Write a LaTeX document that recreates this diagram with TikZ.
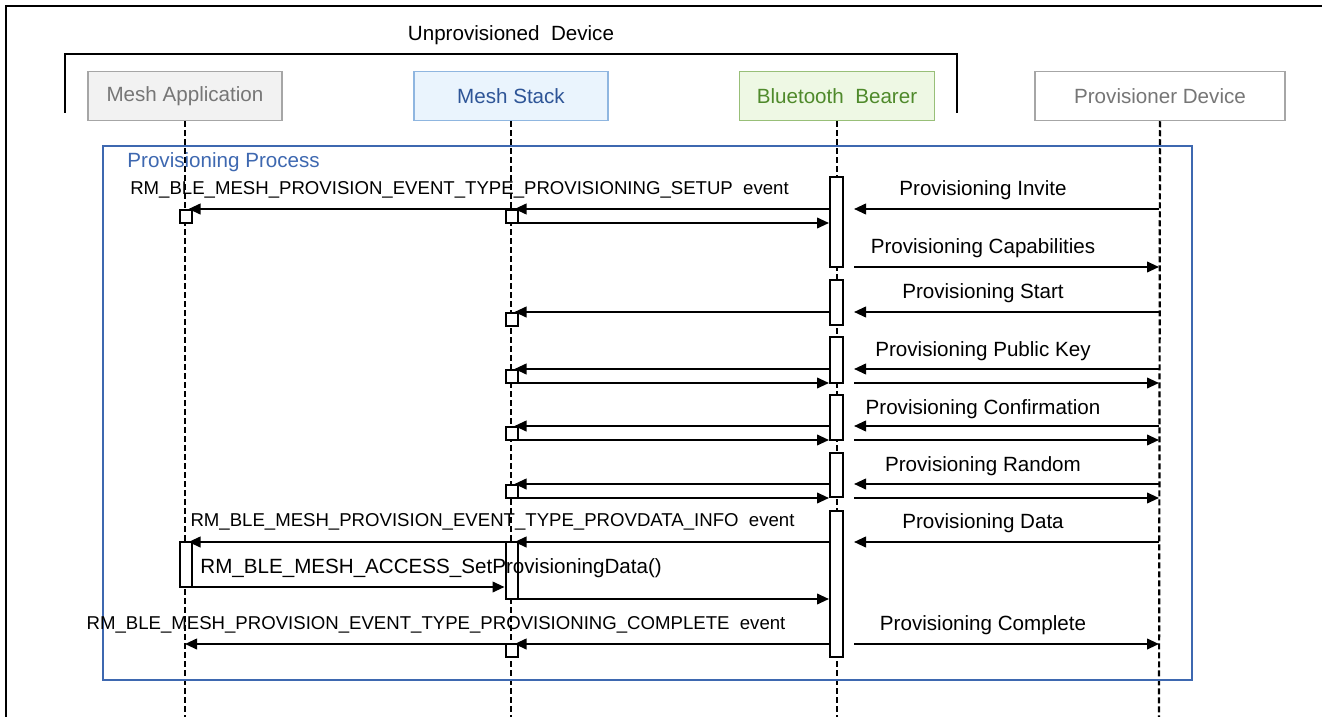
\documentclass[tikz,border=0pt]{standalone}
\usepackage{fontspec}
\setmainfont{Liberation Sans}
\usetikzlibrary{arrows.meta}
\definecolor{appfill}{HTML}{F2F2F2}
\definecolor{appdraw}{HTML}{A6A6A6}
\definecolor{apptext}{HTML}{767676}
\definecolor{stfill}{HTML}{EAF4FD}
\definecolor{stdraw}{HTML}{8FB6E0}
\definecolor{sttext}{HTML}{2E5597}
\definecolor{btfill}{HTML}{EEF8E4}
\definecolor{btdraw}{HTML}{98BF78}
\definecolor{bttext}{HTML}{4F8A2B}
\definecolor{frameblue}{HTML}{3E68B0}
\begin{document}
\begin{tikzpicture}[x=0.5pt,y=-0.5pt,
  hdr/.style={draw, line width=0.75pt, minimum height=24.5pt, inner sep=0pt,
    font=\fontsize{10.3}{12}\selectfont},
  life/.style={line width=1.1pt, dash pattern=on 3pt off 1.5pt},
  msg/.style={line width=1pt, -{Triangle[length=6pt,width=5.3pt]}},
  msgin/.style={msg, shorten >=-2pt},
  act/.style={draw, fill=white, line width=1pt, minimum width=6pt, inner sep=0pt},
  lbl/.style={font=\fontsize{10.3}{12}\selectfont, inner sep=0pt},
  ev/.style={font=\fontsize{9.3}{11}\selectfont, inner sep=0pt}]
\useasboundingbox (0,0) rectangle (1322,717);
% outer frame
\draw[line width=1pt] (6,717) -- (6,6) -- (1322,6);
% unprovisioned device bracket
\node[lbl] (udev) at (511,35) {Unprovisioned\ \ Device};
\draw[line width=0.9pt] (65,113) -- (65,54) -- (957,54) -- (957,113);
% header boxes
\node[hdr, minimum width=97pt, fill=appfill, draw=appdraw, text=apptext] (app) at (185,96) {Mesh Application};
\node[hdr, minimum width=97pt, fill=stfill, draw=stdraw, text=sttext] (stk) at (511,96) {Mesh Stack};
\node[hdr, minimum width=97.5pt, fill=btfill, draw=btdraw, text=bttext] (ble) at (837,96) {Bluetooth\ \ Bearer};
\node[hdr, minimum width=125pt, fill=white, draw=appdraw, text=apptext] (prv) at (1160,96) {Provisioner Device};
% lifeline ends
\coordinate (appE) at (185,717);
\coordinate (stkE) at (511,717);
\coordinate (bleE) at (837,717);
\coordinate (prvE) at (1159,717);
\draw[life] (app.south) -- (appE);
\draw[life] (stk.south) -- (stkE);
\draw[life] (ble.south) -- (bleE);
\draw[life] (prv.south) -- (prvE);
% process frame
\draw[frameblue, line width=0.7pt] (103,146) rectangle (1192,680);
\node[lbl, anchor=west, text=frameblue] (ptitle) at (127,162) {Provisioning Process};
% row coordinates
\coordinate (rSet) at (0,209);
\coordinate (rSetB) at (0,223);
\coordinate (rCap) at (0,267);
\coordinate (rStart) at (0,312);
\coordinate (rPKa) at (0,369);
\coordinate (rPKb) at (0,383);
\coordinate (rCfa) at (0,426);
\coordinate (rCfb) at (0,440);
\coordinate (rRna) at (0,484);
\coordinate (rRnb) at (0,498);
\coordinate (rDat) at (0,542);
\coordinate (rSPD) at (0,587);
\coordinate (rS6b) at (0,599);
\coordinate (rCmp) at (0,644);
\coordinate (bR) at (854,0);
% bearer activations
\node[act, minimum width=6.5pt, minimum height=45pt] (A1) at (836.5,222) {};
\node[act, minimum width=6.5pt, minimum height=22.5pt] (A2) at (836.5,302.5) {};
\node[act, minimum width=6.5pt, minimum height=23pt] (A3) at (836.5,360) {};
\node[act, minimum width=6.5pt, minimum height=22.5pt] (A4) at (836.5,417.5) {};
\node[act, minimum width=6.5pt, minimum height=22pt] (A5) at (836.5,475) {};
\node[act, minimum width=6.5pt, minimum height=73pt] (A6) at (836.5,584) {};
% stack boxes
\node[act, minimum height=6.5pt] (S1) at (511.5,216.5) {};
\node[act, minimum height=6.5pt] (S2) at (511.5,319.5) {};
\node[act, minimum height=6.5pt] (S3) at (511.5,376.5) {};
\node[act, minimum height=6.5pt] (S4) at (511.5,433.5) {};
\node[act, minimum height=6.5pt] (S5) at (511.5,491.5) {};
\node[act, minimum height=28.5pt] (S6) at (511.5,570.5) {};
\node[act, minimum height=6.5pt] (S7) at (511.5,650.5) {};
% app boxes
\node[act, minimum height=6.5pt] (P1) at (185.5,216.5) {};
\node[act, minimum height=22.5pt] (P2) at (185.5,564.5) {};
% setup
\draw[msgin] (A1.west |- rSet) -- (S1.east |- rSet);
\draw[msgin] (S1.east |- rSet) -- (P1.east |- rSet);
\draw[msg] (S1.east |- rSetB) -- (A1.west |- rSetB);
\node[ev] (lSet) at (459.5,190) {RM\_BLE\_MESH\_PROVISION\_EVENT\_TYPE\_PROVISIONING\_SETUP\ \ event};
% start
\draw[msgin] (A2.west |- rStart) -- (S2.east |- rStart);
% public key
\draw[msgin] (A3.west |- rPKa) -- (S3.east |- rPKa);
\draw[msg] (S3.east |- rPKb) -- (A3.west |- rPKb);
% confirmation
\draw[msgin] (A4.west |- rCfa) -- (S4.east |- rCfa);
\draw[msg] (S4.east |- rCfb) -- (A4.west |- rCfb);
% random
\draw[msgin] (A5.west |- rRna) -- (S5.east |- rRna);
\draw[msg] (S5.east |- rRnb) -- (A5.west |- rRnb);
% provisioning data
\draw[msgin] (A6.west |- rDat) -- (S6.east |- rDat);
\draw[msgin] (S6.east |- rDat) -- (P2.east |- rDat);
\node[ev] (lDat) at (492.5,522) {RM\_BLE\_MESH\_PROVISION\_EVENT\_TYPE\_PROVDATA\_INFO\ \ event};
\draw[msg] (P2.east |- rSPD) -- (S6.west |- rSPD);
\node[lbl, anchor=west] (lSPD) at (200,568) {RM\_BLE\_MESH\_ACCESS\_SetProvisioningData()};
\draw[msg] (S6.east |- rS6b) -- (A6.west |- rS6b);
% complete
\draw[msgin] (A6.west |- rCmp) -- (S7.east |- rCmp);
\draw[msg] (S7.east |- rCmp) -- (appE |- rCmp);
\node[ev] (lCmp) at (436,625) {RM\_BLE\_MESH\_PROVISION\_EVENT\_TYPE\_PROVISIONING\_COMPLETE\ \ event};
% provisioner side
\draw[msg] (prvE |- rSet) -- (bR |- rSet);
\node[lbl] (tInv) at (983,190) {Provisioning Invite};
\draw[msg] (bR |- rCap) -- (prvE |- rCap);
\node[lbl] (tCap) at (983,248) {Provisioning Capabilities};
\draw[msg] (prvE |- rStart) -- (bR |- rStart);
\node[lbl] (tStart) at (983,293) {Provisioning Start};
\draw[msg] (prvE |- rPKa) -- (bR |- rPKa);
\draw[msg] (bR |- rPKb) -- (prvE |- rPKb);
\node[lbl] (tPK) at (983,351) {Provisioning Public Key};
\draw[msg] (prvE |- rCfa) -- (bR |- rCfa);
\draw[msg] (bR |- rCfb) -- (prvE |- rCfb);
\node[lbl] (tCf) at (983,409) {Provisioning Confirmation};
\draw[msg] (prvE |- rRna) -- (bR |- rRna);
\draw[msg] (bR |- rRnb) -- (prvE |- rRnb);
\node[lbl] (tRn) at (983,466) {Provisioning Random};
\draw[msg] (prvE |- rDat) -- (bR |- rDat);
\node[lbl] (tDat) at (983,523) {Provisioning Data};
\draw[msg] (bR |- rCmp) -- (prvE |- rCmp);
\node[lbl] (tCmp) at (983,625) {Provisioning Complete};
\end{tikzpicture}
\end{document}
